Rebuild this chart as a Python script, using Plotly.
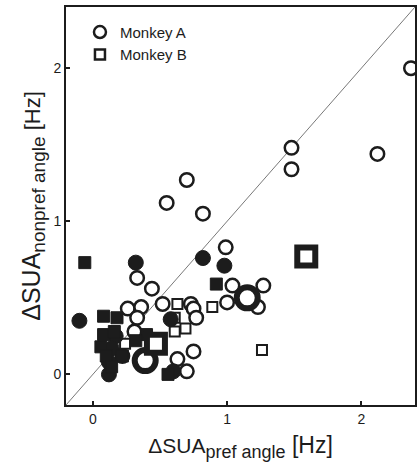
import plotly.graph_objects as go

# Axis extent (same for both axes, so y = x runs corner to corner)
AX_MIN, AX_MAX = -0.2, 2.4

# Monkey A, single units
a_open_x = [2.37, 1.48, 1.48, 2.12, 0.70, 0.55, 0.82, 0.99, 1.04, 1.27, 1.23, 1.00,
            0.33, 0.44, 0.26, 0.36, 0.52, 0.73, 0.75, 0.77, 0.33, 0.31, 0.75, 0.63,
            0.70, 0.22]
a_open_y = [2.00, 1.48, 1.34, 1.44, 1.27, 1.12, 1.05, 0.83, 0.58, 0.58, 0.44, 0.47,
            0.63, 0.56, 0.43, 0.44, 0.46, 0.46, 0.43, 0.37, 0.37, 0.28, 0.15, 0.10,
            0.02, 0.12]
a_fill_x = [0.32, 0.82, 0.98, -0.10, 0.58, 0.12, 0.12, 0.17, 0.60, 0.14]
a_fill_y = [0.73, 0.76, 0.71, 0.35, 0.36, 0.00, 0.08, 0.25, 0.02, 0.17]

# Monkey B, single units
b_open_x = [0.63, 0.89, 0.61, 0.69, 0.61, 0.24, 1.26]
b_open_y = [0.46, 0.44, 0.37, 0.30, 0.28, 0.20, 0.16]
b_fill_x = [-0.06, 0.92, 0.08, 0.18, 0.08, 0.06, 0.10, 0.40, 0.22, 0.56, 0.14, 0.32, 0.16]
b_fill_y = [0.73, 0.59, 0.38, 0.37, 0.26, 0.18, 0.12, 0.26, 0.12, 0.00, 0.05, 0.22, 0.28]

# Population means
a_mean_x = [1.15, 0.39]
a_mean_y = [0.50, 0.09]
b_mean_x = [1.59, 0.47]
b_mean_y = [0.77, 0.20]

INK = "#1c1c1c"
FONT = "Liberation Sans, Arial, Helvetica, sans-serif"

fig = go.Figure()

# identity line
fig.add_trace(go.Scatter(x=[AX_MIN, AX_MAX], y=[AX_MIN, AX_MAX], mode="lines",
                         line=dict(color="#555555", width=0.8), showlegend=False,
                         hoverinfo="skip"))


def pts(x, y, symbol, size, fill, lw):
    fig.add_trace(go.Scatter(
        x=x, y=y, mode="markers", showlegend=False, cliponaxis=True,
        marker=dict(symbol=symbol, size=size, color=fill,
                    line=dict(color=INK, width=lw))))


pts(a_open_x, a_open_y, "circle", 13.5, "white", 2.5)
pts(b_open_x, b_open_y, "square", 10, "white", 2)
pts(a_fill_x, a_fill_y, "circle", 15, INK, 1)
pts(b_fill_x, b_fill_y, "square", 12, INK, 1)
pts(a_mean_x, a_mean_y, "circle", 21, "white", 6)
pts(b_mean_x, b_mean_y, "square", 18, "white", 6)

# legend entries
fig.add_trace(go.Scatter(x=[None], y=[None], mode="markers", name="Monkey A",
                         marker=dict(symbol="circle", size=12, color="white",
                                     line=dict(color=INK, width=2.5))))
fig.add_trace(go.Scatter(x=[None], y=[None], mode="markers", name="Monkey B",
                         marker=dict(symbol="square", size=10, color="white",
                                     line=dict(color=INK, width=2.5))))

axis_common = dict(
    range=[AX_MIN, AX_MAX], tickvals=[0, 1, 2], ticktext=["0", "1", "2"],
    ticks="inside", ticklen=4, tickwidth=2, tickcolor=INK,
    showline=True, linewidth=2, linecolor=INK, mirror=True,
    showgrid=False, zeroline=False,
    tickfont=dict(family=FONT, size=14, color=INK),
)


def label(sub, sub_size, unit_size):
    return (f"ΔSUA<sub><span style='font-size:{sub_size}px'>{sub}</span></sub>"
            f"<span style='font-size:{unit_size}px'> [Hz]</span>")


fig.update_layout(
    width=417, height=467,
    margin=dict(l=66, r=0, t=7, b=62),
    plot_bgcolor="white", paper_bgcolor="white",
    font=dict(family=FONT, color=INK),
    xaxis=dict(**axis_common,
               title=dict(text=label("pref angle", 18, 23),
                          font=dict(family=FONT, size=21, color=INK), standoff=13)),
    yaxis=dict(**axis_common,
               title=dict(text=label("nonpref angle", 19, 22),
                          font=dict(family=FONT, size=25, color=INK), standoff=6)),
    legend=dict(x=0.04, y=0.978, xanchor="left", yanchor="top",
                bgcolor="rgba(0,0,0,0)", font=dict(family=FONT, size=15, color=INK),
                itemsizing="trace", tracegroupgap=0),
    showlegend=True,
)

fig.write_html("out.html")
